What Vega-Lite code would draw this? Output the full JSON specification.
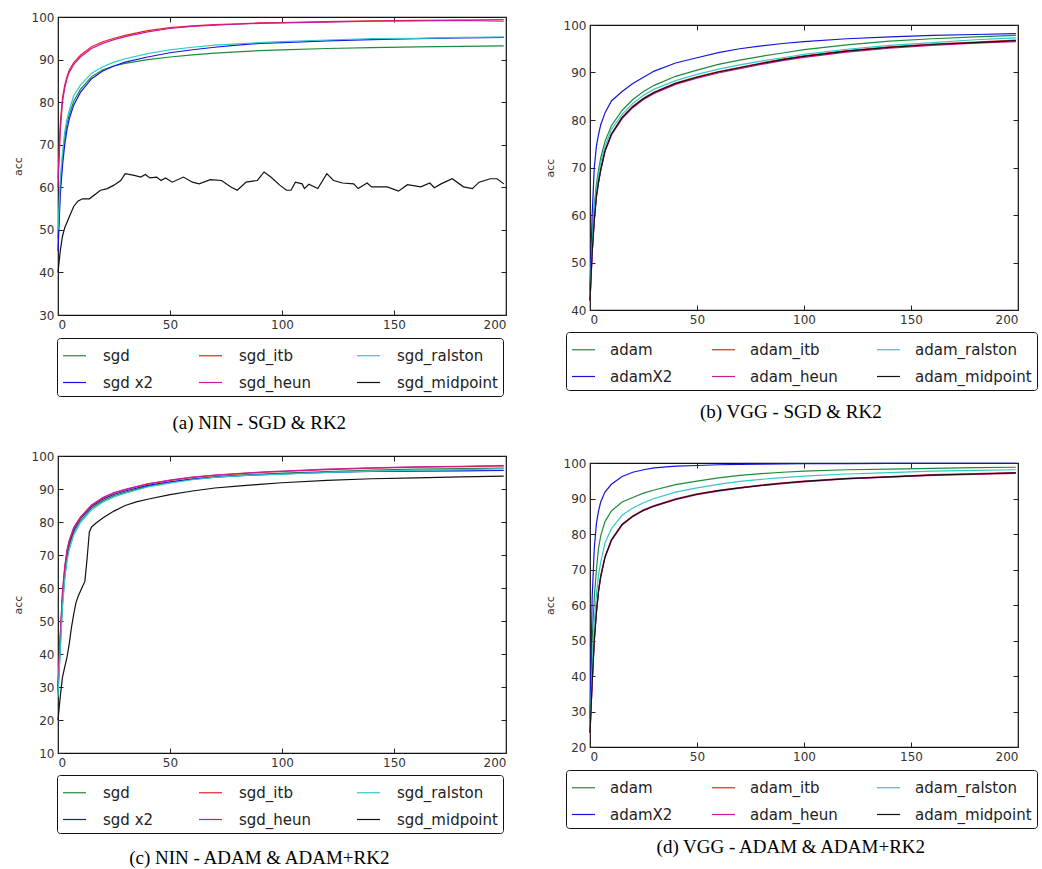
{
"$schema": "https://vega.github.io/schema/vega-lite/v6.json",
"padding": {"left": 11, "top": 10, "right": 0, "bottom": 0},
"background": "white",
"config": {
  "font": "DejaVu Sans",
  "view": {"stroke": "#111", "strokeWidth": 1.2},
  "axis": {"grid": false, "domain": false, "tickSize": -5, "tickColor": "#222", "tickWidth": 1, "labelFontSize": 12, "labelColor": "#333", "labelPadding": 9, "titleFontSize": 11, "titleFontWeight": "normal", "titleColor": "#333", "titlePadding": 8, "labelFont": "DejaVu Sans", "titleFont": "DejaVu Sans"},
  "title": {"font": "Liberation Serif", "fontSize": 19, "fontWeight": "normal", "color": "#000", "frame": "bounds", "anchor": "middle"},
  "legend": {"orient": "none", "columns": 3, "title": null, "symbolType": "stroke", "symbolSize": 529, "symbolStrokeWidth": 1.5, "labelFontSize": 15, "labelFont": "DejaVu Sans", "labelColor": "#222", "labelOffset": 16, "columnPadding": 42, "rowPadding": 6, "padding": 5, "strokeColor": "#111", "cornerRadius": 3, "fillColor": "#fff", "labelLimit": 300},
  "line": {"strokeWidth": 1.2, "clip": true}
},
"resolve": {"scale": {"color": "independent"}, "legend": {"color": "independent"}},
"spacing": 35,
"hconcat": [
{
  "spacing": 15,
  "resolve": {"scale": {"color": "independent"}, "legend": {"color": "independent"}},
  "vconcat": [
  {
    "width": 448, "height": 298,
    "title": {"text": "(a) NIN - SGD & RK2", "orient": "bottom", "offset": 17},
    "data": {"values": [
      {"s":"sgd","x":0,"y":48},{"s":"sgd","x":1,"y":60},{"s":"sgd","x":2,"y":67},{"s":"sgd","x":3,"y":71.5},{"s":"sgd","x":4,"y":75},{"s":"sgd","x":5,"y":77},{"s":"sgd","x":7,"y":80.2},{"s":"sgd","x":10,"y":83},{"s":"sgd","x":15,"y":86},{"s":"sgd","x":20,"y":87.6},{"s":"sgd","x":25,"y":88.5},{"s":"sgd","x":30,"y":89.1},{"s":"sgd","x":40,"y":90},{"s":"sgd","x":50,"y":90.6},{"s":"sgd","x":60,"y":91.1},{"s":"sgd","x":70,"y":91.5},{"s":"sgd","x":80,"y":91.8},{"s":"sgd","x":90,"y":92.1},{"s":"sgd","x":100,"y":92.3},{"s":"sgd","x":120,"y":92.6},{"s":"sgd","x":140,"y":92.8},{"s":"sgd","x":160,"y":93},{"s":"sgd","x":180,"y":93.1},{"s":"sgd","x":199,"y":93.2},
      {"s":"sgd x2","x":0,"y":45},{"s":"sgd x2","x":1,"y":58},{"s":"sgd x2","x":2,"y":65},{"s":"sgd x2","x":3,"y":70},{"s":"sgd x2","x":4,"y":73.5},{"s":"sgd x2","x":5,"y":76},{"s":"sgd x2","x":7,"y":79.3},{"s":"sgd x2","x":10,"y":82.3},{"s":"sgd x2","x":15,"y":85.5},{"s":"sgd x2","x":20,"y":87.3},{"s":"sgd x2","x":25,"y":88.5},{"s":"sgd x2","x":30,"y":89.4},{"s":"sgd x2","x":40,"y":90.6},{"s":"sgd x2","x":50,"y":91.6},{"s":"sgd x2","x":60,"y":92.3},{"s":"sgd x2","x":70,"y":92.9},{"s":"sgd x2","x":80,"y":93.4},{"s":"sgd x2","x":90,"y":93.8},{"s":"sgd x2","x":100,"y":94},{"s":"sgd x2","x":120,"y":94.4},{"s":"sgd x2","x":140,"y":94.7},{"s":"sgd x2","x":160,"y":94.9},{"s":"sgd x2","x":180,"y":95.1},{"s":"sgd x2","x":199,"y":95.2},
      {"s":"sgd_itb","x":0,"y":62},{"s":"sgd_itb","x":1,"y":75},{"s":"sgd_itb","x":2,"y":81},{"s":"sgd_itb","x":3,"y":84},{"s":"sgd_itb","x":4,"y":86},{"s":"sgd_itb","x":5,"y":87.5},{"s":"sgd_itb","x":7,"y":89.3},{"s":"sgd_itb","x":10,"y":91},{"s":"sgd_itb","x":15,"y":93},{"s":"sgd_itb","x":20,"y":94.2},{"s":"sgd_itb","x":25,"y":95},{"s":"sgd_itb","x":30,"y":95.7},{"s":"sgd_itb","x":40,"y":96.8},{"s":"sgd_itb","x":50,"y":97.5},{"s":"sgd_itb","x":60,"y":97.9},{"s":"sgd_itb","x":70,"y":98.2},{"s":"sgd_itb","x":80,"y":98.4},{"s":"sgd_itb","x":90,"y":98.6},{"s":"sgd_itb","x":100,"y":98.7},{"s":"sgd_itb","x":120,"y":98.9},{"s":"sgd_itb","x":140,"y":99.1},{"s":"sgd_itb","x":160,"y":99.2},{"s":"sgd_itb","x":180,"y":99.3},{"s":"sgd_itb","x":199,"y":99.4},
      {"s":"sgd_heun","x":0,"y":60},{"s":"sgd_heun","x":1,"y":73},{"s":"sgd_heun","x":2,"y":80},{"s":"sgd_heun","x":3,"y":83.3},{"s":"sgd_heun","x":4,"y":85.4},{"s":"sgd_heun","x":5,"y":87},{"s":"sgd_heun","x":7,"y":88.8},{"s":"sgd_heun","x":10,"y":90.6},{"s":"sgd_heun","x":15,"y":92.6},{"s":"sgd_heun","x":20,"y":93.8},{"s":"sgd_heun","x":25,"y":94.7},{"s":"sgd_heun","x":30,"y":95.4},{"s":"sgd_heun","x":40,"y":96.5},{"s":"sgd_heun","x":50,"y":97.3},{"s":"sgd_heun","x":60,"y":97.8},{"s":"sgd_heun","x":70,"y":98.1},{"s":"sgd_heun","x":80,"y":98.3},{"s":"sgd_heun","x":90,"y":98.5},{"s":"sgd_heun","x":100,"y":98.6},{"s":"sgd_heun","x":120,"y":98.8},{"s":"sgd_heun","x":140,"y":99},{"s":"sgd_heun","x":160,"y":99.1},{"s":"sgd_heun","x":180,"y":99.2},{"s":"sgd_heun","x":199,"y":99},
      {"s":"sgd_ralston","x":0,"y":50},{"s":"sgd_ralston","x":1,"y":62},{"s":"sgd_ralston","x":2,"y":68},{"s":"sgd_ralston","x":3,"y":73},{"s":"sgd_ralston","x":4,"y":76},{"s":"sgd_ralston","x":5,"y":78},{"s":"sgd_ralston","x":7,"y":81.5},{"s":"sgd_ralston","x":10,"y":84},{"s":"sgd_ralston","x":15,"y":86.8},{"s":"sgd_ralston","x":20,"y":88.3},{"s":"sgd_ralston","x":25,"y":89.4},{"s":"sgd_ralston","x":30,"y":90.2},{"s":"sgd_ralston","x":40,"y":91.4},{"s":"sgd_ralston","x":50,"y":92.3},{"s":"sgd_ralston","x":60,"y":92.9},{"s":"sgd_ralston","x":70,"y":93.4},{"s":"sgd_ralston","x":80,"y":93.7},{"s":"sgd_ralston","x":90,"y":94},{"s":"sgd_ralston","x":100,"y":94.2},{"s":"sgd_ralston","x":120,"y":94.6},{"s":"sgd_ralston","x":140,"y":94.9},{"s":"sgd_ralston","x":160,"y":95},{"s":"sgd_ralston","x":180,"y":95.2},{"s":"sgd_ralston","x":199,"y":95.3},
      {"s":"sgd_midpoint","x":0,"y":40},{"s":"sgd_midpoint","x":1,"y":45},{"s":"sgd_midpoint","x":2,"y":48.5},{"s":"sgd_midpoint","x":3,"y":50.5},{"s":"sgd_midpoint","x":5,"y":53},{"s":"sgd_midpoint","x":7,"y":55.5},{"s":"sgd_midpoint","x":9,"y":56.8},{"s":"sgd_midpoint","x":11,"y":57.3},{"s":"sgd_midpoint","x":14,"y":57.3},{"s":"sgd_midpoint","x":19,"y":59.3},{"s":"sgd_midpoint","x":22,"y":59.7},{"s":"sgd_midpoint","x":25,"y":60.5},{"s":"sgd_midpoint","x":28,"y":61.6},{"s":"sgd_midpoint","x":30,"y":63.2},{"s":"sgd_midpoint","x":34,"y":62.8},{"s":"sgd_midpoint","x":37,"y":62.4},{"s":"sgd_midpoint","x":39,"y":63},{"s":"sgd_midpoint","x":41,"y":62.2},{"s":"sgd_midpoint","x":44,"y":62.4},{"s":"sgd_midpoint","x":46,"y":61.6},{"s":"sgd_midpoint","x":48,"y":62.2},{"s":"sgd_midpoint","x":51,"y":61.2},{"s":"sgd_midpoint","x":56,"y":62.4},{"s":"sgd_midpoint","x":60,"y":61.2},{"s":"sgd_midpoint","x":63,"y":60.8},{"s":"sgd_midpoint","x":68,"y":61.8},{"s":"sgd_midpoint","x":73,"y":61.6},{"s":"sgd_midpoint","x":77,"y":60.1},{"s":"sgd_midpoint","x":80,"y":59.3},{"s":"sgd_midpoint","x":84,"y":61.2},{"s":"sgd_midpoint","x":89,"y":61.6},{"s":"sgd_midpoint","x":92,"y":63.6},{"s":"sgd_midpoint","x":95,"y":62.4},{"s":"sgd_midpoint","x":99,"y":60.5},{"s":"sgd_midpoint","x":102,"y":59.3},{"s":"sgd_midpoint","x":104,"y":59.3},{"s":"sgd_midpoint","x":106,"y":61.2},{"s":"sgd_midpoint","x":109,"y":60.8},{"s":"sgd_midpoint","x":110,"y":59.7},{"s":"sgd_midpoint","x":112,"y":60.7},{"s":"sgd_midpoint","x":116,"y":59.7},{"s":"sgd_midpoint","x":120,"y":63.2},{"s":"sgd_midpoint","x":123,"y":61.6},{"s":"sgd_midpoint","x":127,"y":61},{"s":"sgd_midpoint","x":132,"y":60.8},{"s":"sgd_midpoint","x":134,"y":59.7},{"s":"sgd_midpoint","x":138,"y":61},{"s":"sgd_midpoint","x":140,"y":60.1},{"s":"sgd_midpoint","x":147,"y":60.1},{"s":"sgd_midpoint","x":152,"y":59.1},{"s":"sgd_midpoint","x":156,"y":60.6},{"s":"sgd_midpoint","x":162,"y":60.1},{"s":"sgd_midpoint","x":166,"y":61},{"s":"sgd_midpoint","x":168,"y":59.9},{"s":"sgd_midpoint","x":171,"y":60.8},{"s":"sgd_midpoint","x":176,"y":62},{"s":"sgd_midpoint","x":181,"y":60.1},{"s":"sgd_midpoint","x":185,"y":59.7},{"s":"sgd_midpoint","x":188,"y":61.2},{"s":"sgd_midpoint","x":193,"y":62},{"s":"sgd_midpoint","x":196,"y":62},{"s":"sgd_midpoint","x":199,"y":60.8}
    ]},
    "resolve": {"axis": {"x": "independent", "y": "independent"}},
    "layer": [
      {
        "mark": {"type": "line"},
        "encoding": {
          "x": {"field": "x", "type": "quantitative", "scale": {"domain": [0, 200], "nice": false}, "axis": {"values": [0, 50, 100, 150, 200], "title": null}},
          "y": {"field": "y", "type": "quantitative", "scale": {"domain": [30, 100], "nice": false, "zero": false}, "axis": {"values": [30, 40, 50, 60, 70, 80, 90, 100], "title": "acc"}},
          "color": {"field": "s", "type": "nominal",
            "scale": {"domain": ["sgd", "sgd x2", "sgd_itb", "sgd_heun", "sgd_ralston", "sgd_midpoint"], "range": ["#1f8a3a", "#1414e0", "#e8202a", "#c81c9a", "#30c8c8", "#111111"]},
            "legend": {"legendX": -1, "legendY": 321}}
        }
      },
      {
        "mark": {"type": "point", "opacity": 0},
        "encoding": {
          "x": {"field": "x", "type": "quantitative", "scale": {"domain": [0, 200], "nice": false}, "axis": {"orient": "top", "labels": false, "values": [0, 50, 100, 150, 200], "title": null, "minExtent": 0}},
          "y": {"field": "y", "type": "quantitative", "scale": {"domain": [30, 100], "nice": false, "zero": false}, "axis": {"orient": "right", "labels": false, "values": [30, 40, 50, 60, 70, 80, 90, 100], "title": null, "minExtent": 0}}
        }
      }
    ]
  },
  {
    "width": 448, "height": 297,
    "title": {"text": "(c) NIN - ADAM & ADAM+RK2", "orient": "bottom", "offset": 15},
    "data": {"values": [
      {"s":"sgd","x":0,"y":28},{"s":"sgd","x":1,"y":42},{"s":"sgd","x":2,"y":55},{"s":"sgd","x":3,"y":63.5},{"s":"sgd","x":4,"y":69},{"s":"sgd","x":5,"y":72.5},{"s":"sgd","x":7,"y":76.8},{"s":"sgd","x":10,"y":80.3},{"s":"sgd","x":15,"y":84.2},{"s":"sgd","x":20,"y":86.4},{"s":"sgd","x":25,"y":88},{"s":"sgd","x":30,"y":89},{"s":"sgd","x":40,"y":90.8},{"s":"sgd","x":50,"y":92},{"s":"sgd","x":60,"y":93},{"s":"sgd","x":70,"y":93.7},{"s":"sgd","x":80,"y":94.2},{"s":"sgd","x":90,"y":94.5},{"s":"sgd","x":100,"y":94.8},{"s":"sgd","x":120,"y":95.3},{"s":"sgd","x":140,"y":95.7},{"s":"sgd","x":160,"y":96},{"s":"sgd","x":180,"y":96.2},{"s":"sgd","x":199,"y":96.3},
      {"s":"sgd x2","x":0,"y":29},{"s":"sgd x2","x":1,"y":44},{"s":"sgd x2","x":2,"y":57},{"s":"sgd x2","x":3,"y":65},{"s":"sgd x2","x":4,"y":70.5},{"s":"sgd x2","x":5,"y":73.5},{"s":"sgd x2","x":7,"y":77.5},{"s":"sgd x2","x":10,"y":81},{"s":"sgd x2","x":15,"y":84.7},{"s":"sgd x2","x":20,"y":86.9},{"s":"sgd x2","x":25,"y":88.4},{"s":"sgd x2","x":30,"y":89.4},{"s":"sgd x2","x":40,"y":91.1},{"s":"sgd x2","x":50,"y":92.2},{"s":"sgd x2","x":60,"y":93},{"s":"sgd x2","x":70,"y":93.6},{"s":"sgd x2","x":80,"y":94},{"s":"sgd x2","x":90,"y":94.3},{"s":"sgd x2","x":100,"y":94.6},{"s":"sgd x2","x":120,"y":95},{"s":"sgd x2","x":140,"y":95.3},{"s":"sgd x2","x":160,"y":95.4},{"s":"sgd x2","x":180,"y":95.5},{"s":"sgd x2","x":199,"y":95.6},
      {"s":"sgd_itb","x":0,"y":30},{"s":"sgd_itb","x":1,"y":45},{"s":"sgd_itb","x":2,"y":58},{"s":"sgd_itb","x":3,"y":66},{"s":"sgd_itb","x":4,"y":71},{"s":"sgd_itb","x":5,"y":74},{"s":"sgd_itb","x":7,"y":78},{"s":"sgd_itb","x":10,"y":81.3},{"s":"sgd_itb","x":15,"y":85},{"s":"sgd_itb","x":20,"y":87.2},{"s":"sgd_itb","x":25,"y":88.8},{"s":"sgd_itb","x":30,"y":89.8},{"s":"sgd_itb","x":40,"y":91.5},{"s":"sgd_itb","x":50,"y":92.6},{"s":"sgd_itb","x":60,"y":93.5},{"s":"sgd_itb","x":70,"y":94.1},{"s":"sgd_itb","x":80,"y":94.6},{"s":"sgd_itb","x":90,"y":95},{"s":"sgd_itb","x":100,"y":95.3},{"s":"sgd_itb","x":120,"y":95.9},{"s":"sgd_itb","x":140,"y":96.3},{"s":"sgd_itb","x":160,"y":96.6},{"s":"sgd_itb","x":180,"y":96.8},{"s":"sgd_itb","x":199,"y":97},
      {"s":"sgd_heun","x":0,"y":30},{"s":"sgd_heun","x":1,"y":46},{"s":"sgd_heun","x":2,"y":59},{"s":"sgd_heun","x":3,"y":66.5},{"s":"sgd_heun","x":4,"y":71.5},{"s":"sgd_heun","x":5,"y":74.5},{"s":"sgd_heun","x":7,"y":78.3},{"s":"sgd_heun","x":10,"y":81.5},{"s":"sgd_heun","x":15,"y":85.2},{"s":"sgd_heun","x":20,"y":87.4},{"s":"sgd_heun","x":25,"y":88.9},{"s":"sgd_heun","x":30,"y":89.9},{"s":"sgd_heun","x":40,"y":91.6},{"s":"sgd_heun","x":50,"y":92.7},{"s":"sgd_heun","x":60,"y":93.6},{"s":"sgd_heun","x":70,"y":94.2},{"s":"sgd_heun","x":80,"y":94.7},{"s":"sgd_heun","x":90,"y":95.1},{"s":"sgd_heun","x":100,"y":95.4},{"s":"sgd_heun","x":120,"y":96},{"s":"sgd_heun","x":140,"y":96.4},{"s":"sgd_heun","x":160,"y":96.7},{"s":"sgd_heun","x":180,"y":96.9},{"s":"sgd_heun","x":199,"y":97.1},
      {"s":"sgd_ralston","x":0,"y":27},{"s":"sgd_ralston","x":1,"y":41},{"s":"sgd_ralston","x":2,"y":54},{"s":"sgd_ralston","x":3,"y":62.5},{"s":"sgd_ralston","x":4,"y":68},{"s":"sgd_ralston","x":5,"y":71.5},{"s":"sgd_ralston","x":7,"y":76},{"s":"sgd_ralston","x":10,"y":79.8},{"s":"sgd_ralston","x":15,"y":83.7},{"s":"sgd_ralston","x":20,"y":86},{"s":"sgd_ralston","x":25,"y":87.6},{"s":"sgd_ralston","x":30,"y":88.7},{"s":"sgd_ralston","x":40,"y":90.6},{"s":"sgd_ralston","x":50,"y":91.8},{"s":"sgd_ralston","x":60,"y":92.8},{"s":"sgd_ralston","x":70,"y":93.5},{"s":"sgd_ralston","x":80,"y":94},{"s":"sgd_ralston","x":90,"y":94.3},{"s":"sgd_ralston","x":100,"y":94.5},{"s":"sgd_ralston","x":120,"y":95},{"s":"sgd_ralston","x":140,"y":95.4},{"s":"sgd_ralston","x":160,"y":95.7},{"s":"sgd_ralston","x":180,"y":95.9},{"s":"sgd_ralston","x":199,"y":96.1},
      {"s":"sgd_midpoint","x":0,"y":20},{"s":"sgd_midpoint","x":1,"y":27},{"s":"sgd_midpoint","x":2,"y":33},{"s":"sgd_midpoint","x":3,"y":36},{"s":"sgd_midpoint","x":4,"y":39},{"s":"sgd_midpoint","x":5,"y":43},{"s":"sgd_midpoint","x":6,"y":48},{"s":"sgd_midpoint","x":7,"y":52},{"s":"sgd_midpoint","x":8,"y":55.5},{"s":"sgd_midpoint","x":9,"y":57.5},{"s":"sgd_midpoint","x":10,"y":59},{"s":"sgd_midpoint","x":11,"y":60.5},{"s":"sgd_midpoint","x":12,"y":62},{"s":"sgd_midpoint","x":13,"y":69},{"s":"sgd_midpoint","x":14,"y":77},{"s":"sgd_midpoint","x":15,"y":78.5},{"s":"sgd_midpoint","x":17,"y":79.7},{"s":"sgd_midpoint","x":20,"y":81.2},{"s":"sgd_midpoint","x":25,"y":83.3},{"s":"sgd_midpoint","x":30,"y":85},{"s":"sgd_midpoint","x":35,"y":86.1},{"s":"sgd_midpoint","x":40,"y":86.9},{"s":"sgd_midpoint","x":50,"y":88.3},{"s":"sgd_midpoint","x":60,"y":89.4},{"s":"sgd_midpoint","x":70,"y":90.3},{"s":"sgd_midpoint","x":80,"y":90.9},{"s":"sgd_midpoint","x":90,"y":91.4},{"s":"sgd_midpoint","x":100,"y":91.9},{"s":"sgd_midpoint","x":120,"y":92.6},{"s":"sgd_midpoint","x":140,"y":93.1},{"s":"sgd_midpoint","x":160,"y":93.4},{"s":"sgd_midpoint","x":180,"y":93.7},{"s":"sgd_midpoint","x":199,"y":93.9}
    ]},
    "resolve": {"axis": {"x": "independent", "y": "independent"}},
    "layer": [
      {
        "mark": {"type": "line"},
        "encoding": {
          "x": {"field": "x", "type": "quantitative", "scale": {"domain": [0, 200], "nice": false}, "axis": {"values": [0, 50, 100, 150, 200], "title": null}},
          "y": {"field": "y", "type": "quantitative", "scale": {"domain": [10, 100], "nice": false, "zero": false}, "axis": {"values": [10, 20, 30, 40, 50, 60, 70, 80, 90, 100], "title": "acc"}},
          "color": {"field": "s", "type": "nominal",
            "scale": {"domain": ["sgd", "sgd x2", "sgd_itb", "sgd_heun", "sgd_ralston", "sgd_midpoint"], "range": ["#1f8a3a", "#1414e0", "#e8202a", "#c81c9a", "#30c8c8", "#111111"]},
            "legend": {"legendX": -1, "legendY": 319}}
        }
      },
      {
        "mark": {"type": "point", "opacity": 0},
        "encoding": {
          "x": {"field": "x", "type": "quantitative", "scale": {"domain": [0, 200], "nice": false}, "axis": {"orient": "top", "labels": false, "values": [0, 50, 100, 150, 200], "title": null, "minExtent": 0}},
          "y": {"field": "y", "type": "quantitative", "scale": {"domain": [10, 100], "nice": false, "zero": false}, "axis": {"orient": "right", "labels": false, "values": [10, 20, 30, 40, 50, 60, 70, 80, 90, 100], "title": null, "minExtent": 0}}
        }
      }
    ]
  }
  ]
},
{
  "spacing": 0,
  "resolve": {"scale": {"color": "independent"}, "legend": {"color": "independent"}},
  "vconcat": [
  {
    "width": 428, "height": 1,
    "view": {"stroke": null},
    "data": {"values": [{"s": "spacer"}]},
    "mark": {"type": "point", "size": 0, "opacity": 0},
    "encoding": {}
  },
  {
  "spacing": 33,
  "resolve": {"scale": {"color": "independent"}, "legend": {"color": "independent"}},
  "vconcat": [
  {
    "width": 428, "height": 285,
    "title": {"text": "(b) VGG - SGD & RK2", "orient": "bottom", "offset": 12},
    "data": {"values": [
      {"s":"adam","x":0,"y":44},{"s":"adam","x":1,"y":55},{"s":"adam","x":2,"y":62},{"s":"adam","x":3,"y":66.5},{"s":"adam","x":4,"y":69.5},{"s":"adam","x":5,"y":72},{"s":"adam","x":7,"y":75.5},{"s":"adam","x":10,"y":78.8},{"s":"adam","x":15,"y":82},{"s":"adam","x":20,"y":84.3},{"s":"adam","x":25,"y":86},{"s":"adam","x":30,"y":87.3},{"s":"adam","x":40,"y":89.2},{"s":"adam","x":50,"y":90.5},{"s":"adam","x":60,"y":91.7},{"s":"adam","x":70,"y":92.6},{"s":"adam","x":80,"y":93.4},{"s":"adam","x":90,"y":94.1},{"s":"adam","x":100,"y":94.8},{"s":"adam","x":120,"y":95.8},{"s":"adam","x":140,"y":96.6},{"s":"adam","x":160,"y":97.1},{"s":"adam","x":180,"y":97.5},{"s":"adam","x":199,"y":97.8},
      {"s":"adamX2","x":0,"y":44},{"s":"adamX2","x":1,"y":60},{"s":"adamX2","x":2,"y":70},{"s":"adamX2","x":3,"y":74.5},{"s":"adamX2","x":4,"y":77},{"s":"adamX2","x":5,"y":79},{"s":"adamX2","x":7,"y":81.5},{"s":"adamX2","x":10,"y":84},{"s":"adamX2","x":15,"y":86},{"s":"adamX2","x":20,"y":87.7},{"s":"adamX2","x":25,"y":89},{"s":"adamX2","x":30,"y":90.3},{"s":"adamX2","x":40,"y":92},{"s":"adamX2","x":50,"y":93.1},{"s":"adamX2","x":60,"y":94.2},{"s":"adamX2","x":70,"y":95},{"s":"adamX2","x":80,"y":95.6},{"s":"adamX2","x":90,"y":96.1},{"s":"adamX2","x":100,"y":96.5},{"s":"adamX2","x":120,"y":97.1},{"s":"adamX2","x":140,"y":97.5},{"s":"adamX2","x":160,"y":97.8},{"s":"adamX2","x":180,"y":98},{"s":"adamX2","x":199,"y":98.2},
      {"s":"adam_itb","x":0,"y":42},{"s":"adam_itb","x":1,"y":52},{"s":"adam_itb","x":2,"y":59},{"s":"adam_itb","x":3,"y":64},{"s":"adam_itb","x":4,"y":67},{"s":"adam_itb","x":5,"y":69.6},{"s":"adam_itb","x":7,"y":73.6},{"s":"adam_itb","x":10,"y":77.1},{"s":"adam_itb","x":15,"y":80.6},{"s":"adam_itb","x":20,"y":82.9},{"s":"adam_itb","x":25,"y":84.6},{"s":"adam_itb","x":30,"y":85.9},{"s":"adam_itb","x":40,"y":87.8},{"s":"adam_itb","x":50,"y":89.1},{"s":"adam_itb","x":60,"y":90.2},{"s":"adam_itb","x":70,"y":91.1},{"s":"adam_itb","x":80,"y":92},{"s":"adam_itb","x":90,"y":92.8},{"s":"adam_itb","x":100,"y":93.5},{"s":"adam_itb","x":120,"y":94.6},{"s":"adam_itb","x":140,"y":95.4},{"s":"adam_itb","x":160,"y":96},{"s":"adam_itb","x":180,"y":96.4},{"s":"adam_itb","x":199,"y":96.8},
      {"s":"adam_heun","x":0,"y":42},{"s":"adam_heun","x":1,"y":51.8},{"s":"adam_heun","x":2,"y":58.8},{"s":"adam_heun","x":3,"y":63.8},{"s":"adam_heun","x":4,"y":66.8},{"s":"adam_heun","x":5,"y":69.3},{"s":"adam_heun","x":7,"y":73.3},{"s":"adam_heun","x":10,"y":76.8},{"s":"adam_heun","x":15,"y":80.3},{"s":"adam_heun","x":20,"y":82.6},{"s":"adam_heun","x":25,"y":84.3},{"s":"adam_heun","x":30,"y":85.6},{"s":"adam_heun","x":40,"y":87.5},{"s":"adam_heun","x":50,"y":88.8},{"s":"adam_heun","x":60,"y":89.9},{"s":"adam_heun","x":70,"y":90.8},{"s":"adam_heun","x":80,"y":91.7},{"s":"adam_heun","x":90,"y":92.5},{"s":"adam_heun","x":100,"y":93.2},{"s":"adam_heun","x":120,"y":94.3},{"s":"adam_heun","x":140,"y":95.1},{"s":"adam_heun","x":160,"y":95.7},{"s":"adam_heun","x":180,"y":96.2},{"s":"adam_heun","x":199,"y":96.5},
      {"s":"adam_ralston","x":0,"y":43},{"s":"adam_ralston","x":1,"y":54},{"s":"adam_ralston","x":2,"y":61},{"s":"adam_ralston","x":3,"y":65.5},{"s":"adam_ralston","x":4,"y":68.5},{"s":"adam_ralston","x":5,"y":71},{"s":"adam_ralston","x":7,"y":74.5},{"s":"adam_ralston","x":10,"y":78},{"s":"adam_ralston","x":15,"y":81.2},{"s":"adam_ralston","x":20,"y":83.5},{"s":"adam_ralston","x":25,"y":85.2},{"s":"adam_ralston","x":30,"y":86.5},{"s":"adam_ralston","x":40,"y":88.3},{"s":"adam_ralston","x":50,"y":89.6},{"s":"adam_ralston","x":60,"y":90.7},{"s":"adam_ralston","x":70,"y":91.6},{"s":"adam_ralston","x":80,"y":92.4},{"s":"adam_ralston","x":90,"y":93.1},{"s":"adam_ralston","x":100,"y":93.8},{"s":"adam_ralston","x":120,"y":94.9},{"s":"adam_ralston","x":140,"y":95.7},{"s":"adam_ralston","x":160,"y":96.3},{"s":"adam_ralston","x":180,"y":96.9},{"s":"adam_ralston","x":199,"y":97.3},
      {"s":"adam_midpoint","x":0,"y":42},{"s":"adam_midpoint","x":1,"y":52},{"s":"adam_midpoint","x":2,"y":59},{"s":"adam_midpoint","x":3,"y":64},{"s":"adam_midpoint","x":4,"y":67},{"s":"adam_midpoint","x":5,"y":69.5},{"s":"adam_midpoint","x":7,"y":73.5},{"s":"adam_midpoint","x":10,"y":77},{"s":"adam_midpoint","x":15,"y":80.5},{"s":"adam_midpoint","x":20,"y":82.8},{"s":"adam_midpoint","x":25,"y":84.5},{"s":"adam_midpoint","x":30,"y":85.8},{"s":"adam_midpoint","x":40,"y":87.7},{"s":"adam_midpoint","x":50,"y":89},{"s":"adam_midpoint","x":60,"y":90.1},{"s":"adam_midpoint","x":70,"y":91},{"s":"adam_midpoint","x":80,"y":91.9},{"s":"adam_midpoint","x":90,"y":92.7},{"s":"adam_midpoint","x":100,"y":93.4},{"s":"adam_midpoint","x":120,"y":94.5},{"s":"adam_midpoint","x":140,"y":95.3},{"s":"adam_midpoint","x":160,"y":95.9},{"s":"adam_midpoint","x":180,"y":96.3},{"s":"adam_midpoint","x":199,"y":96.7}
    ]},
    "resolve": {"axis": {"x": "independent", "y": "independent"}},
    "layer": [
      {
        "mark": {"type": "line"},
        "encoding": {
          "x": {"field": "x", "type": "quantitative", "scale": {"domain": [0, 200], "nice": false}, "axis": {"values": [0, 50, 100, 150, 200], "title": null}},
          "y": {"field": "y", "type": "quantitative", "scale": {"domain": [40, 100], "nice": false, "zero": false}, "axis": {"values": [40, 50, 60, 70, 80, 90, 100], "title": "acc"}},
          "color": {"field": "s", "type": "nominal",
            "scale": {"domain": ["adam", "adamX2", "adam_itb", "adam_heun", "adam_ralston", "adam_midpoint"], "range": ["#1f8a3a", "#1414e0", "#e8202a", "#c81c9a", "#30c8c8", "#111111"]},
            "legend": {"legendX": -24, "legendY": 307, "columnPadding": 36, "labelOffset": 14}}
        }
      },
      {
        "mark": {"type": "point", "opacity": 0},
        "encoding": {
          "x": {"field": "x", "type": "quantitative", "scale": {"domain": [0, 200], "nice": false}, "axis": {"orient": "top", "labels": false, "values": [0, 50, 100, 150, 200], "title": null, "minExtent": 0}},
          "y": {"field": "y", "type": "quantitative", "scale": {"domain": [40, 100], "nice": false, "zero": false}, "axis": {"orient": "right", "labels": false, "values": [40, 50, 60, 70, 80, 90, 100], "title": null, "minExtent": 0}}
        }
      }
    ]
  },
  {
    "width": 428, "height": 284,
    "title": {"text": "(d) VGG - ADAM & ADAM+RK2", "orient": "bottom", "offset": 9},
    "data": {"values": [
      {"s":"adam","x":0,"y":27},{"s":"adam","x":1,"y":50},{"s":"adam","x":2,"y":62},{"s":"adam","x":3,"y":70},{"s":"adam","x":4,"y":76},{"s":"adam","x":5,"y":79.5},{"s":"adam","x":7,"y":83.5},{"s":"adam","x":10,"y":86.5},{"s":"adam","x":15,"y":89},{"s":"adam","x":20,"y":90.3},{"s":"adam","x":25,"y":91.5},{"s":"adam","x":30,"y":92.4},{"s":"adam","x":40,"y":93.9},{"s":"adam","x":50,"y":94.9},{"s":"adam","x":60,"y":95.8},{"s":"adam","x":70,"y":96.5},{"s":"adam","x":80,"y":97},{"s":"adam","x":90,"y":97.4},{"s":"adam","x":100,"y":97.7},{"s":"adam","x":120,"y":98.1},{"s":"adam","x":140,"y":98.3},{"s":"adam","x":160,"y":98.5},{"s":"adam","x":180,"y":98.7},{"s":"adam","x":199,"y":98.8},
      {"s":"adamX2","x":0,"y":28},{"s":"adamX2","x":1,"y":62},{"s":"adamX2","x":2,"y":76},{"s":"adamX2","x":3,"y":83},{"s":"adamX2","x":4,"y":86.5},{"s":"adamX2","x":5,"y":89},{"s":"adamX2","x":7,"y":91.8},{"s":"adamX2","x":10,"y":94},{"s":"adamX2","x":15,"y":96.2},{"s":"adamX2","x":20,"y":97.4},{"s":"adamX2","x":25,"y":98.1},{"s":"adamX2","x":30,"y":98.6},{"s":"adamX2","x":40,"y":99.1},{"s":"adamX2","x":50,"y":99.3},{"s":"adamX2","x":60,"y":99.5},{"s":"adamX2","x":70,"y":99.6},{"s":"adamX2","x":80,"y":99.7},{"s":"adamX2","x":90,"y":99.75},{"s":"adamX2","x":100,"y":99.8},{"s":"adamX2","x":120,"y":99.85},{"s":"adamX2","x":140,"y":99.9},{"s":"adamX2","x":160,"y":99.9},{"s":"adamX2","x":180,"y":99.9},{"s":"adamX2","x":199,"y":99.9},
      {"s":"adam_itb","x":0,"y":24},{"s":"adam_itb","x":1,"y":38.2},{"s":"adam_itb","x":2,"y":50.2},{"s":"adam_itb","x":3,"y":58.2},{"s":"adam_itb","x":4,"y":64.2},{"s":"adam_itb","x":5,"y":68.2},{"s":"adam_itb","x":7,"y":73.6},{"s":"adam_itb","x":10,"y":78.4},{"s":"adam_itb","x":15,"y":82.8},{"s":"adam_itb","x":20,"y":85.1},{"s":"adam_itb","x":25,"y":86.8},{"s":"adam_itb","x":30,"y":88},{"s":"adam_itb","x":40,"y":89.9},{"s":"adam_itb","x":50,"y":91.3},{"s":"adam_itb","x":60,"y":92.3},{"s":"adam_itb","x":70,"y":93.1},{"s":"adam_itb","x":80,"y":93.8},{"s":"adam_itb","x":90,"y":94.4},{"s":"adam_itb","x":100,"y":94.9},{"s":"adam_itb","x":120,"y":95.7},{"s":"adam_itb","x":140,"y":96.2},{"s":"adam_itb","x":160,"y":96.7},{"s":"adam_itb","x":180,"y":97},{"s":"adam_itb","x":199,"y":97.3},
      {"s":"adam_heun","x":0,"y":24},{"s":"adam_heun","x":1,"y":37.8},{"s":"adam_heun","x":2,"y":49.8},{"s":"adam_heun","x":3,"y":57.8},{"s":"adam_heun","x":4,"y":63.8},{"s":"adam_heun","x":5,"y":67.8},{"s":"adam_heun","x":7,"y":73.3},{"s":"adam_heun","x":10,"y":78.1},{"s":"adam_heun","x":15,"y":82.5},{"s":"adam_heun","x":20,"y":84.9},{"s":"adam_heun","x":25,"y":86.6},{"s":"adam_heun","x":30,"y":87.8},{"s":"adam_heun","x":40,"y":89.7},{"s":"adam_heun","x":50,"y":91.1},{"s":"adam_heun","x":60,"y":92.1},{"s":"adam_heun","x":70,"y":92.9},{"s":"adam_heun","x":80,"y":93.6},{"s":"adam_heun","x":90,"y":94.2},{"s":"adam_heun","x":100,"y":94.7},{"s":"adam_heun","x":120,"y":95.5},{"s":"adam_heun","x":140,"y":96},{"s":"adam_heun","x":160,"y":96.5},{"s":"adam_heun","x":180,"y":96.8},{"s":"adam_heun","x":199,"y":97.1},
      {"s":"adam_ralston","x":0,"y":26},{"s":"adam_ralston","x":1,"y":42},{"s":"adam_ralston","x":2,"y":55},{"s":"adam_ralston","x":3,"y":63},{"s":"adam_ralston","x":4,"y":68.5},{"s":"adam_ralston","x":5,"y":72},{"s":"adam_ralston","x":7,"y":77.5},{"s":"adam_ralston","x":10,"y":81.5},{"s":"adam_ralston","x":15,"y":85.3},{"s":"adam_ralston","x":20,"y":87.3},{"s":"adam_ralston","x":25,"y":88.8},{"s":"adam_ralston","x":30,"y":90},{"s":"adam_ralston","x":40,"y":91.8},{"s":"adam_ralston","x":50,"y":93},{"s":"adam_ralston","x":60,"y":94},{"s":"adam_ralston","x":70,"y":94.8},{"s":"adam_ralston","x":80,"y":95.4},{"s":"adam_ralston","x":90,"y":95.9},{"s":"adam_ralston","x":100,"y":96.3},{"s":"adam_ralston","x":120,"y":96.9},{"s":"adam_ralston","x":140,"y":97.3},{"s":"adam_ralston","x":160,"y":97.7},{"s":"adam_ralston","x":180,"y":97.9},{"s":"adam_ralston","x":199,"y":98.1},
      {"s":"adam_midpoint","x":0,"y":24},{"s":"adam_midpoint","x":1,"y":38},{"s":"adam_midpoint","x":2,"y":50},{"s":"adam_midpoint","x":3,"y":58},{"s":"adam_midpoint","x":4,"y":64},{"s":"adam_midpoint","x":5,"y":68},{"s":"adam_midpoint","x":7,"y":73.5},{"s":"adam_midpoint","x":10,"y":78.3},{"s":"adam_midpoint","x":15,"y":82.7},{"s":"adam_midpoint","x":20,"y":85},{"s":"adam_midpoint","x":25,"y":86.7},{"s":"adam_midpoint","x":30,"y":87.9},{"s":"adam_midpoint","x":40,"y":89.8},{"s":"adam_midpoint","x":50,"y":91.2},{"s":"adam_midpoint","x":60,"y":92.2},{"s":"adam_midpoint","x":70,"y":93},{"s":"adam_midpoint","x":80,"y":93.7},{"s":"adam_midpoint","x":90,"y":94.3},{"s":"adam_midpoint","x":100,"y":94.8},{"s":"adam_midpoint","x":120,"y":95.6},{"s":"adam_midpoint","x":140,"y":96.1},{"s":"adam_midpoint","x":160,"y":96.6},{"s":"adam_midpoint","x":180,"y":96.9},{"s":"adam_midpoint","x":199,"y":97.2}
    ]},
    "resolve": {"axis": {"x": "independent", "y": "independent"}},
    "layer": [
      {
        "mark": {"type": "line"},
        "encoding": {
          "x": {"field": "x", "type": "quantitative", "scale": {"domain": [0, 200], "nice": false}, "axis": {"values": [0, 50, 100, 150, 200], "title": null}},
          "y": {"field": "y", "type": "quantitative", "scale": {"domain": [20, 100], "nice": false, "zero": false}, "axis": {"values": [20, 30, 40, 50, 60, 70, 80, 90, 100], "title": "acc"}},
          "color": {"field": "s", "type": "nominal",
            "scale": {"domain": ["adam", "adamX2", "adam_itb", "adam_heun", "adam_ralston", "adam_midpoint"], "range": ["#1f8a3a", "#1414e0", "#e8202a", "#c81c9a", "#30c8c8", "#111111"]},
            "legend": {"legendX": -24, "legendY": 307, "columnPadding": 36, "labelOffset": 14}}
        }
      },
      {
        "mark": {"type": "point", "opacity": 0},
        "encoding": {
          "x": {"field": "x", "type": "quantitative", "scale": {"domain": [0, 200], "nice": false}, "axis": {"orient": "top", "labels": false, "values": [0, 50, 100, 150, 200], "title": null, "minExtent": 0}},
          "y": {"field": "y", "type": "quantitative", "scale": {"domain": [20, 100], "nice": false, "zero": false}, "axis": {"orient": "right", "labels": false, "values": [20, 30, 40, 50, 60, 70, 80, 90, 100], "title": null, "minExtent": 0}}
        }
      }
    ]
  }
  ]
  }
  ]
}
]
}
